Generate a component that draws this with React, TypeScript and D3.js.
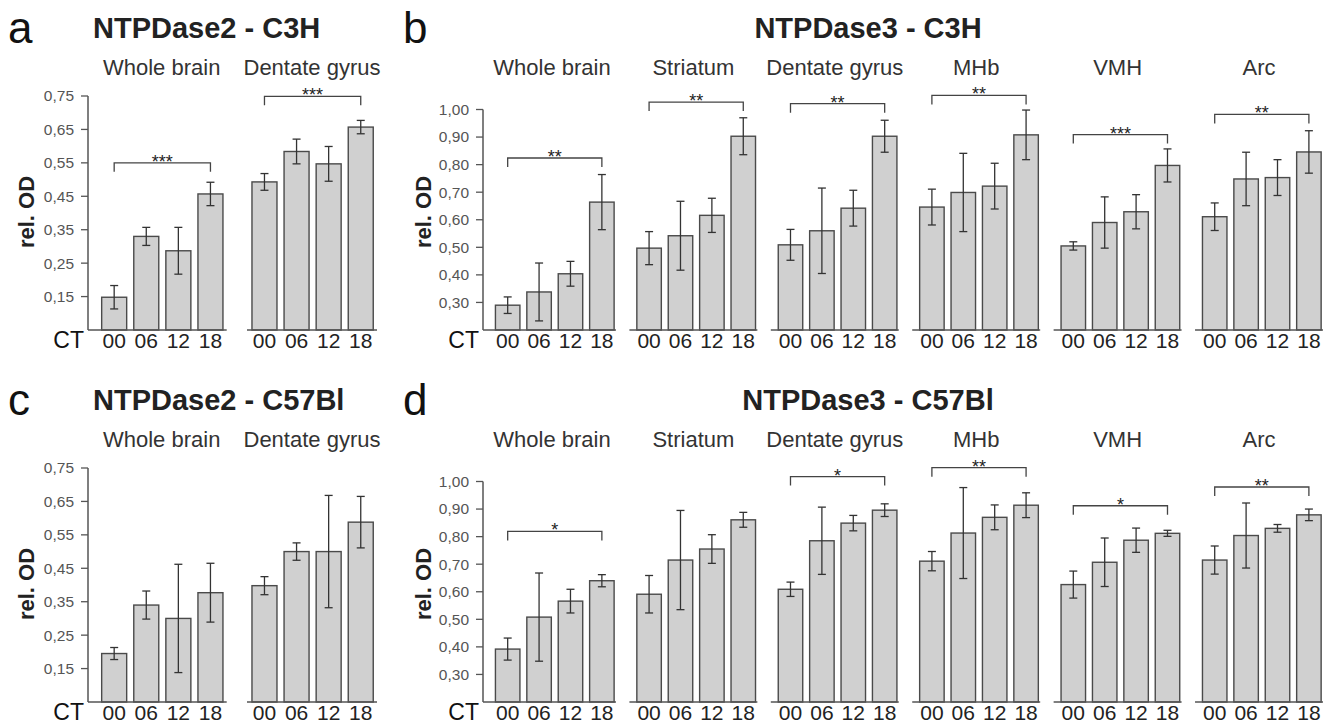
import React from 'react'
import * as d3 from 'd3'

// CT time points and brain regions
const ctLabels = ['00', '06', '12', '18']
const regionsNtpd2 = ['Whole brain', 'Dentate gyrus']
const regionsNtpd3 = ['Whole brain', 'Striatum', 'Dentate gyrus', 'MHb', 'VMH', 'Arc']

const ticksNtpd2 = [0.15, 0.25, 0.35, 0.45, 0.55, 0.65, 0.75]
const ticksNtpd3 = [0.3, 0.4, 0.5, 0.6, 0.7, 0.8, 0.9, 1.0]

// a: NTPDase2 - C3H
const aMeans = [
	[0.148, 0.33, 0.287, 0.457],
	[0.493, 0.584, 0.547, 0.657],
]
const aErrors = [
	[0.035, 0.027, 0.07, 0.035],
	[0.025, 0.037, 0.052, 0.02],
]
const aSig = [
	['Whole brain', 0.55, '***'],
	['Dentate gyrus', 0.749, '***'],
]

// b: NTPDase3 - C3H
const bMeans = [
	[0.29, 0.338, 0.404, 0.664],
	[0.497, 0.542, 0.616, 0.903],
	[0.509, 0.56, 0.642, 0.903],
	[0.646, 0.699, 0.722, 0.908],
	[0.505, 0.59, 0.629, 0.797],
	[0.611, 0.748, 0.753, 0.846],
]
const bErrors = [
	[0.03, 0.105, 0.045, 0.1],
	[0.06, 0.125, 0.062, 0.067],
	[0.056, 0.155, 0.065, 0.058],
	[0.065, 0.142, 0.083, 0.09],
	[0.015, 0.093, 0.062, 0.06],
	[0.05, 0.097, 0.065, 0.077],
]
const bSig = [
	['Whole brain', 0.824, '**'],
	['Striatum', 1.027, '**'],
	['Dentate gyrus', 1.021, '**'],
	['MHb', 1.051, '**'],
	['VMH', 0.909, '***'],
	['Arc', 0.982, '**'],
]

// c: NTPDase2 - C57Bl
const cMeans = [
	[0.195, 0.34, 0.3, 0.377],
	[0.398, 0.5, 0.5, 0.588],
]
const cErrors = [
	[0.018, 0.042, 0.162, 0.088],
	[0.027, 0.026, 0.168, 0.077],
]
const cSig: any[] = []

// d: NTPDase3 - C57Bl
const dMeans = [
	[0.392, 0.508, 0.566, 0.64],
	[0.591, 0.715, 0.755, 0.861],
	[0.609, 0.785, 0.849, 0.896],
	[0.711, 0.813, 0.87, 0.914],
	[0.626, 0.707, 0.787, 0.812],
	[0.715, 0.804, 0.83, 0.879],
]
const dErrors = [
	[0.04, 0.16, 0.043, 0.022],
	[0.068, 0.18, 0.052, 0.027],
	[0.026, 0.122, 0.028, 0.023],
	[0.035, 0.165, 0.045, 0.045],
	[0.049, 0.088, 0.044, 0.011],
	[0.051, 0.118, 0.014, 0.021],
]
const dSig = [
	['Whole brain', 0.819, '*'],
	['Dentate gyrus', 1.018, '*'],
	['MHb', 1.05, '**'],
	['VMH', 0.912, '*'],
	['Arc', 0.98, '**'],
]

const FONT = 'Liberation Sans, Arial, sans-serif'
const fmt = (v: number) => d3.format('.2f')(v).replace('.', ',')

// layout for the narrow (NTPDase2) and wide (NTPDase3) panels
const layoutNarrow = {
	yAxisX: 88,
	range: [96.7, 377],
	outerPad: 0.135,
	innerPad: 0.221,
	innerOuter: 0.136,
	align: 0.57,
	domain: [0.05, 0.75],
	yTop: 96,
	ticks: ticksNtpd2,
	letterX: 8,
	titleX: 93,
	titleAnchor: 'start',
	labelX: 34,
}
const layoutWide = {
	yAxisX: 483,
	range: [488, 1323],
	outerPad: 0.095,
	innerPad: 0.22,
	innerOuter: 0.148,
	align: 0.8,
	domain: [0.2, 1.0],
	yTop: 109.5,
	ticks: ticksNtpd3,
	letterX: 403,
	titleX: 868,
	titleAnchor: 'middle',
	labelX: 431,
}

function Panel({ letter, title, regions, means, errors, sig, layout, top }: any) {
	const y = d3.scaleLinear().domain(layout.domain).range([top + 330, top + layout.yTop])
	const outer = d3.scaleBand().domain(regions).range(layout.range).paddingInner(layout.outerPad).paddingOuter(0)
	const inner = d3
		.scaleBand()
		.domain(ctLabels)
		.range([0, outer.bandwidth()])
		.paddingInner(layout.innerPad)
		.paddingOuter(layout.innerOuter)
		.align(layout.align)
	const y0 = y(layout.domain[0])
	const bw = inner.bandwidth()
	const cx = (r: string, ct: string) => (outer(r) as number) + (inner(ct) as number) + bw / 2
	const maxTick = d3.max(layout.ticks as number[]) as number

	return (
		<g fontFamily={FONT}>
			<text x={layout.letterX} y={top + 43} fontSize={44} fill="#111">
				{letter}
			</text>
			<text x={layout.titleX} y={top + 38} fontSize={29} fontWeight="bold" fill="#222" textAnchor={layout.titleAnchor}>
				{title}
			</text>
			<text
				transform={`translate(${layout.labelX},${top + 212}) rotate(-90)`}
				textAnchor="middle"
				fontSize={22}
				fontWeight="bold"
				fill="#222"
			>
				rel. OD
			</text>

			{/* y-as */}
			<line x1={layout.yAxisX} x2={layout.yAxisX} y1={y(maxTick)} y2={y0} stroke="#555" strokeWidth={1.5} />
			{layout.ticks.map((t: number) => (
				<g key={t}>
					<line x1={layout.yAxisX - 7} x2={layout.yAxisX} y1={y(t)} y2={y(t)} stroke="#555" strokeWidth={1.3} />
					<text x={layout.yAxisX - 14} y={y(t)} dy="0.35em" textAnchor="end" fontSize={15.5} fill="#555">
						{fmt(t)}
					</text>
				</g>
			))}
			<text x={layout.yAxisX - 4} y={top + 348} textAnchor="end" fontSize={23} fill="#111">
				CT
			</text>

			{regions.map((r: string, i: number) => {
				const x0 = outer(r) as number
				const s = sig.find((d: any) => d[0] === r)
				return (
					<g key={r}>
						<text x={x0 + outer.bandwidth() / 2} y={top + 75} textAnchor="middle" fontSize={22} fill="#333">
							{r}
						</text>
						{ctLabels.map((ct, j) => {
							const m = means[i][j]
							const e = errors[i][j]
							const c = cx(r, ct)
							return (
								<g key={ct}>
									<rect
										x={x0 + (inner(ct) as number)}
										y={y(m)}
										width={bw}
										height={y0 - y(m)}
										fill="#d0d0d0"
										stroke="#4a4a4a"
										strokeWidth={1.4}
									/>
									<line x1={c} x2={c} y1={y(m + e)} y2={y(m - e)} stroke="#333" strokeWidth={1.3} />
									<line x1={c - 4} x2={c + 4} y1={y(m + e)} y2={y(m + e)} stroke="#333" strokeWidth={1.3} />
									<line x1={c - 4} x2={c + 4} y1={y(m - e)} y2={y(m - e)} stroke="#333" strokeWidth={1.3} />
									<text x={c} y={top + 348} textAnchor="middle" fontSize={21} fill="#222">
										{ct}
									</text>
								</g>
							)
						})}
						<line
							x1={i === 0 ? layout.yAxisX : x0}
							x2={x0 + outer.bandwidth()}
							y1={y0}
							y2={y0}
							stroke="#555"
							strokeWidth={1.6}
						/>
						{s && (
							<g>
								<path
									d={`M${cx(r, ctLabels[0])},${y(s[1]) + 9}V${y(s[1])}H${cx(r, ctLabels[3])}V${y(s[1]) + 9}`}
									fill="none"
									stroke="#444"
									strokeWidth={1.3}
								/>
								<text
									x={(cx(r, ctLabels[0]) + cx(r, ctLabels[3])) / 2}
									y={y(s[1]) + 5}
									textAnchor="middle"
									fontSize={18}
									fill="#222"
								>
									{s[2]}
								</text>
							</g>
						)}
					</g>
				)
			})}
		</g>
	)
}

export default function App() {
	return (
		<svg
			width={1333}
			height={724}
			style={{ position: 'absolute', left: 0, top: 0, background: '#fff', display: 'block' }}
		>
			<rect width={1333} height={724} fill="#fff" />
			<Panel letter="a" title="NTPDase2 - C3H" regions={regionsNtpd2} means={aMeans} errors={aErrors} sig={aSig} layout={layoutNarrow} top={0} />
			<Panel letter="b" title="NTPDase3 - C3H" regions={regionsNtpd3} means={bMeans} errors={bErrors} sig={bSig} layout={layoutWide} top={0} />
			<Panel letter="c" title="NTPDase2 - C57Bl" regions={regionsNtpd2} means={cMeans} errors={cErrors} sig={cSig} layout={layoutNarrow} top={372} />
			<Panel letter="d" title="NTPDase3 - C57Bl" regions={regionsNtpd3} means={dMeans} errors={dErrors} sig={dSig} layout={layoutWide} top={372} />
		</svg>
	)
}
